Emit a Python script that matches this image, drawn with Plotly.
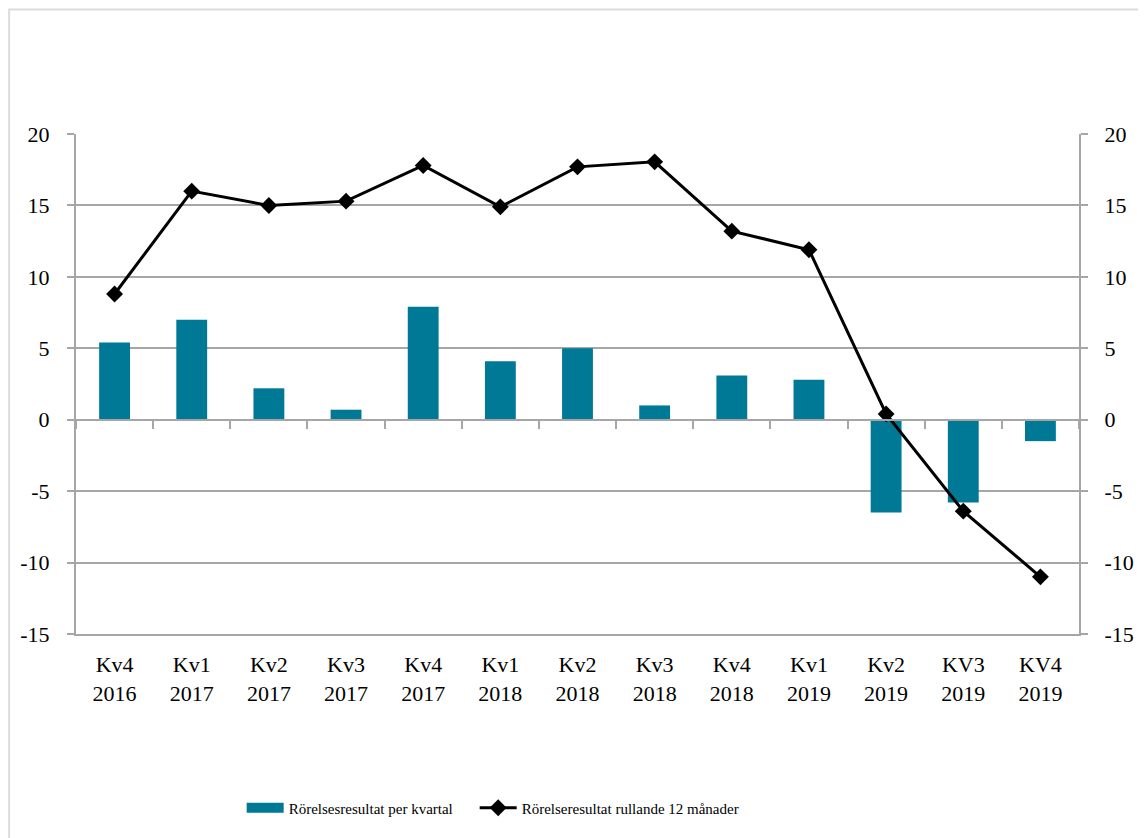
import plotly.graph_objects as go

categories = ["Kv4<br>2016", "Kv1<br>2017", "Kv2<br>2017", "Kv3<br>2017", "Kv4<br>2017",
              "Kv1<br>2018", "Kv2<br>2018", "Kv3<br>2018", "Kv4<br>2018", "Kv1<br>2019",
              "Kv2<br>2019", "KV3<br>2019", "KV4<br>2019"]
quarterly = [5.4, 7.0, 2.2, 0.7, 7.9, 4.1, 5.0, 1.0, 3.1, 2.8, -6.5, -5.8, -1.5]
rolling12 = [8.8, 16.0, 15.0, 15.3, 17.8, 14.9, 17.7, 18.05, 13.2, 11.9, 0.4, -6.4, -11.0]
y_ticks = [-15, -10, -5, 0, 5, 10, 15, 20]
y_tick_labels = ["-15", "-10", "-5", "0", "5", "10", "15", "20"]
y_range = [-15, 20]

FONT = "Liberation Serif"
GRID = "#a6a6a6"
BAR = "#007996"

# page body has an 8px default margin; size the figure so the plot lands where the original is
OFF = 8
W, H = 1146 - OFF, 838 - OFF
PX0, PX1, PY0, PY1 = 76, 1081, 134, 634          # plot area in window pixels
L, T, PW, PH = PX0 - OFF, PY0 - OFF, PX1 - PX0, PY1 - PY0

fig = go.Figure()
fig.add_trace(go.Bar(
    x=categories, y=quarterly, name="Rörelsesresultat per kvartal",
    marker=dict(color=BAR, line=dict(width=0)), width=0.4,
    xaxis="x", yaxis="y", showlegend=False, legendgroup="bar",
))
# legend entry drawn as a wide swatch like the original
fig.add_trace(go.Scatter(
    x=[None], y=[None], name="Rörelsesresultat per kvartal", mode="lines",
    line=dict(color=BAR, width=12), legendgroup="bar", legendwidth=181,
    xaxis="x", yaxis="y",
))
fig.add_trace(go.Scatter(
    x=categories, y=rolling12, name="Rörelseresultat rullande 12 månader",
    mode="lines+markers", line=dict(color="black", width=3),
    marker=dict(symbol="diamond", size=13, color="black"),
    xaxis="x2", yaxis="y2",
))

fig.update_layout(
    width=W, height=H,
    margin=dict(l=L, r=W - L - PW, t=T, b=H - T - PH, pad=0),
    paper_bgcolor="white", plot_bgcolor="white",
    font=dict(family=FONT, size=22, color="black"),
    showlegend=True,
    legend=dict(orientation="h", x=(242 - PX0) / PW, xanchor="left",
                y=(PY1 - 808) / PH, yanchor="middle",
                font=dict(family=FONT, size=15, color="black"),
                traceorder="normal", itemwidth=37, bgcolor="rgba(0,0,0,0)"),
    xaxis=dict(type="category", categoryorder="array", categoryarray=categories,
               showline=True, linecolor=GRID, linewidth=2, ticks="", showgrid=False,
               tickfont=dict(family=FONT, size=22, color="black"), ticklabelstandoff=10,
               range=[-0.5, len(categories) - 0.5], zeroline=False),
    xaxis2=dict(type="category", categoryorder="array", categoryarray=categories,
                overlaying="x", matches="x", anchor="free",
                position=(0 - y_range[0]) / (y_range[1] - y_range[0]),
                showline=True, linecolor=GRID, linewidth=2, ticks="outside",
                tickson="boundaries", ticklen=8, tickcolor=GRID, tickwidth=2,
                showticklabels=False, showgrid=False, zeroline=False),
    yaxis=dict(range=y_range, tickmode="array", tickvals=y_ticks, ticktext=y_tick_labels,
               showgrid=True, gridcolor=GRID, gridwidth=2,
               showline=True, linecolor=GRID, linewidth=2,
               ticks="outside", ticklen=7, tickcolor=GRID, tickwidth=2,
               zeroline=False, tickfont=dict(family=FONT, size=22, color="black"),
               ticklabelstandoff=13),
    yaxis2=dict(range=y_range, tickmode="array", tickvals=y_ticks, ticktext=y_tick_labels,
                overlaying="y", side="right", anchor="x", showgrid=False,
                showline=True, linecolor=GRID, linewidth=2,
                ticks="outside", ticklen=7, tickcolor=GRID, tickwidth=2,
                zeroline=False, tickfont=dict(family=FONT, size=22, color="black"),
                ticklabelstandoff=12),
)

# light outer frame of the original chart area
fig.add_shape(type="rect", xref="paper", yref="paper",
              x0=(9 - PX0) / PW, x1=(1170 - PX0) / PW,
              y0=(PY1 - 880) / PH, y1=(PY1 - 9.5) / PH,
              line=dict(color="#dcdcdc", width=2), layer="below")

fig.write_html("out.html")
